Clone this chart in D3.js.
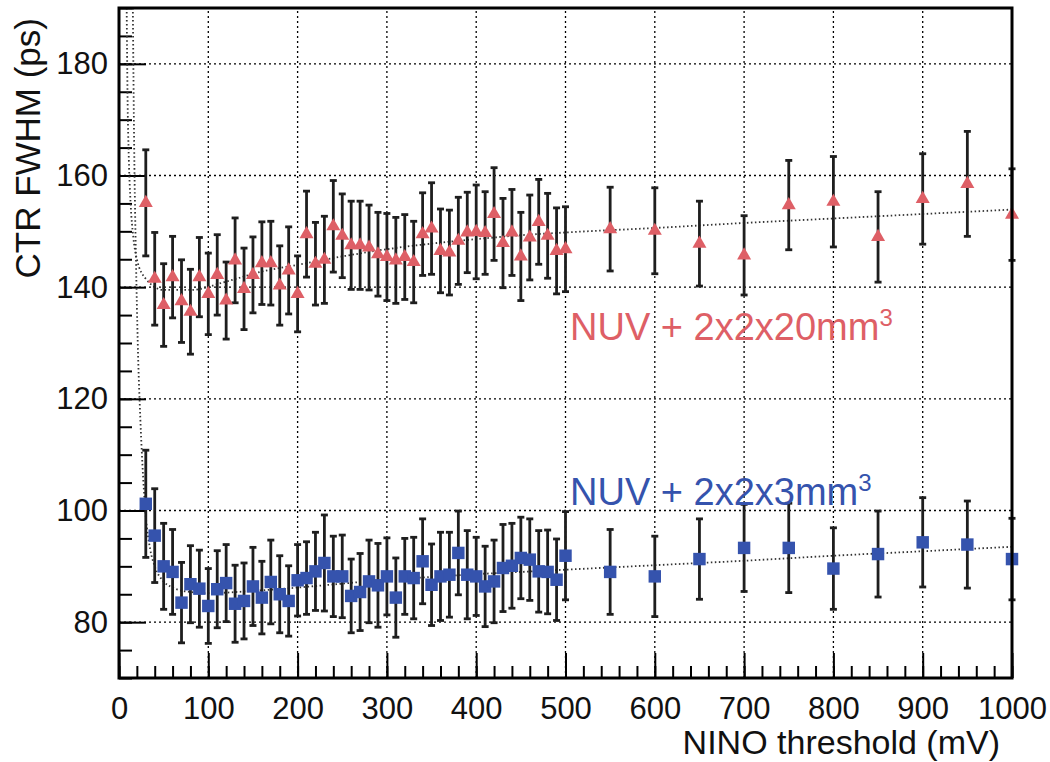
<!DOCTYPE html>
<html>
<head>
<meta charset="utf-8">
<script src="https://cdn.jsdelivr.net/npm/d3@7"></script>
<style>
  html, body { margin: 0; padding: 0; background: #fff; }
  svg { display: block; font-family: "Liberation Sans", Arial, Helvetica, sans-serif; }
</style>
</head>
<body>
<svg></svg>
<script>
const [width, height] = [1050, 762];
const margin = { top: 8, right: 38, bottom: 84, left: 119 };

// NINO threshold (mV)
const thresholds = [30, 40, 50, 60, 70, 80, 90, 100, 110, 120, 130, 140, 150, 160, 170, 180, 190, 200,
  210, 220, 230, 240, 250, 260, 270, 280, 290, 300, 310, 320, 330, 340, 350, 360, 370, 380, 390, 400,
  410, 420, 430, 440, 450, 460, 470, 480, 490, 500, 550, 600, 650, 700, 750, 800, 850, 900, 950, 1000];

// NUV + 2x2x20mm3, CTR FWHM (ps) and its error
const longValues = [155.1, 141.5, 136.8, 141.8, 137.5, 135.6, 141.8, 138.8, 142.2, 137.6, 144.8, 139.7,
  142.2, 144.3, 144.3, 140.3, 143.0, 138.8, 149.5, 144.2, 144.9, 150.9, 149.2, 147.5, 147.5, 147.1,
  145.9, 145.4, 144.8, 145.4, 144.5, 149.5, 150.5, 146.5, 146.2, 148.3, 149.8, 149.9, 149.7, 153.1,
  147.9, 149.8, 145.5, 148.9, 151.7, 149.2, 146.5, 146.8, 150.4, 150.1, 147.8, 145.7, 154.7, 155.3,
  149.0, 155.8, 158.5, 153.0];
const longErrors = [9.5, 8.3, 7.4, 7.3, 7.4, 7.6, 7.1, 7.3, 7.2, 6.9, 7.6, 7.3, 6.8, 7.4, 7.5, 7.1, 7.8,
  6.8, 7.7, 7.4, 7.8, 8.2, 7.5, 7.9, 7.9, 7.6, 7.5, 7.8, 7.7, 7.6, 7.3, 7.4, 8.2, 7.5, 7.6, 7.8, 7.2,
  8.4, 7.4, 8.3, 8.0, 7.7, 7.9, 7.6, 7.6, 7.6, 7.7, 7.6, 7.5, 7.7, 7.6, 7.1, 8.0, 8.1, 8.1, 8.1, 9.4, 8.2];

// NUV + 2x2x3mm3
const shortValues = [101.2, 95.5, 90.0, 89.0, 83.5, 86.8, 86.0, 82.9, 85.9, 87.0, 83.3, 83.8, 86.4,
  84.4, 87.2, 85.0, 83.8, 87.5, 87.9, 89.1, 90.6, 88.2, 88.2, 84.7, 85.4, 87.3, 86.6, 88.2, 84.4, 88.2,
  87.9, 90.9, 86.7, 88.2, 88.5, 92.4, 88.5, 88.2, 86.4, 87.3, 89.7, 90.1, 91.5, 91.2, 89.1, 89.0, 87.6,
  91.9, 89.0, 88.2, 91.3, 93.3, 93.3, 89.6, 92.2, 94.3, 93.9, 91.3];
const shortErrors = [9.6, 8.4, 7.7, 7.6, 7.2, 6.9, 6.9, 6.7, 6.9, 6.9, 6.9, 6.8, 7.0, 6.5, 7.5, 6.9, 6.3,
  6.4, 6.5, 7.0, 8.6, 7.2, 7.4, 6.6, 6.9, 7.4, 7.5, 6.9, 7.1, 6.8, 7.3, 7.6, 7.3, 7.9, 7.6, 7.5, 7.9,
  7.0, 7.2, 7.4, 7.8, 7.6, 7.3, 7.3, 7.3, 7.5, 7.3, 7.9, 7.6, 7.2, 7.2, 7.8, 8.0, 7.3, 7.7, 8.0, 7.8, 7.3];

// fit curves
const longFitX = [8.6, 9.5, 11, 13, 16, 20, 30, 50, 80, 120, 160, 200, 250, 300, 350, 400, 450, 500, 600, 700, 800, 900, 1000];
const longFitY = [190, 175, 163, 155, 149, 145, 141.5, 139.5, 139.5, 141, 142.8, 144, 145.5, 146.8, 147.8, 148.6, 149.3, 149.8, 150.6, 151.5, 152.3, 153.1, 153.9];
const shortFitX = [15.5, 17, 19, 21, 24, 27, 30, 35, 40, 50, 60, 80, 100, 150, 200, 250, 300, 350, 400, 450, 500, 600, 700, 800, 900, 1000];
const shortFitY = [190, 165, 145, 130, 116, 106, 99, 93, 90, 87.3, 86.2, 85.4, 85.2, 85.6, 86.2, 86.9, 87.6, 88.1, 88.6, 89.0, 89.4, 90.2, 91.0, 91.9, 92.7, 93.5];

const xTicks = [0, 100, 200, 300, 400, 500, 600, 700, 800, 900, 1000];
const yTicks = [80, 100, 120, 140, 160, 180];

const red = '#de5f66';
const blue = '#3553ad';

const svg = d3.select('svg').attr('width', width).attr('height', height);

const x = d3.scaleLinear().domain([0, 1000]).range([margin.left, width - margin.right]);
const y = d3.scaleLinear().domain([70, 190]).range([height - margin.bottom, margin.top]);

svg.append('clipPath').attr('id', 'plot')
  .append('rect')
  .attr('x', x(0)).attr('y', y(190))
  .attr('width', x(1000) - x(0)).attr('height', y(70) - y(190));

// grid
const grid = svg.append('g').attr('stroke', '#000').attr('stroke-width', 1.3).attr('stroke-dasharray', '2,3');
grid.selectAll('.gx').data(xTicks.filter(d => d > 0 && d < 1000)).join('line')
  .attr('x1', d => x(d)).attr('x2', d => x(d))
  .attr('y1', y(70)).attr('y2', y(190));
grid.selectAll('.gy').data(yTicks).join('line')
  .attr('x1', x(0)).attr('x2', x(1000))
  .attr('y1', d => y(d)).attr('y2', d => y(d));

// axes: ticks inside the frame, as ROOT draws them
const xAxis = d3.axisBottom(x).tickValues(xTicks).tickSize(-25).tickPadding(35).tickFormat(d3.format('d'));
const xMinor = d3.axisBottom(x).tickValues(d3.range(0, 1001, 20)).tickSize(-12).tickFormat('');
const yAxis = d3.axisLeft(y).tickValues(yTicks).tickSize(-27).tickPadding(11).tickFormat(d3.format('d'));
const yMinor = d3.axisLeft(y).tickValues(d3.range(70, 191, 5)).tickSize(-13).tickFormat('');

function styleAxis(g) {
  g.select('.domain').remove();
  g.selectAll('line').attr('stroke', '#000').attr('stroke-width', 2);
  g.selectAll('text').attr('font-size', 31).attr('fill', '#111').attr('font-family', null);
}

svg.append('g').attr('transform', `translate(0,${y(70)})`).call(xMinor).call(styleAxis);
svg.append('g').attr('transform', `translate(0,${y(70)})`).call(xAxis).call(styleAxis)
  .selectAll('text').attr('dy', '0.2em');
svg.append('g').attr('transform', `translate(${x(0)},0)`).call(yMinor).call(styleAxis);
svg.append('g').attr('transform', `translate(${x(0)},0)`).call(yAxis).call(styleAxis);

// fits
const fitLine = d3.line().x(d => x(d[0])).y(d => y(d[1])).curve(d3.curveMonotoneX);
const fits = svg.append('g').attr('clip-path', 'url(#plot)')
  .attr('fill', 'none').attr('stroke', '#333').attr('stroke-width', 1.8).attr('stroke-dasharray', '1.5,2.5');
fits.append('path').attr('d', fitLine(d3.zip(longFitX, longFitY)));
fits.append('path').attr('d', fitLine(d3.zip(shortFitX, shortFitY)));

// error bars + markers
function drawSeries(values, errors, color, symbolType, size) {
  const data = thresholds.map((t, i) => ({ t, v: values[i], e: errors[i] }));
  const g = svg.append('g');
  const bars = g.append('g').attr('stroke', '#1e1e1e').attr('stroke-width', 2.8);
  bars.selectAll('.bar').data(data).join('line')
    .attr('x1', d => x(d.t)).attr('x2', d => x(d.t))
    .attr('y1', d => y(d.v - d.e)).attr('y2', d => y(d.v + d.e));
  bars.selectAll('.capTop').data(data).join('line')
    .attr('x1', d => x(d.t) - 3.5).attr('x2', d => x(d.t) + 3.5)
    .attr('y1', d => y(d.v + d.e)).attr('y2', d => y(d.v + d.e));
  bars.selectAll('.capBot').data(data).join('line')
    .attr('x1', d => x(d.t) - 3.5).attr('x2', d => x(d.t) + 3.5)
    .attr('y1', d => y(d.v - d.e)).attr('y2', d => y(d.v - d.e));
  g.selectAll('path').data(data).join('path')
    .attr('transform', d => `translate(${x(d.t)},${y(d.v)})`)
    .attr('d', d3.symbol().type(symbolType).size(size))
    .attr('fill', color);
}
drawSeries(longValues, longErrors, red, d3.symbolTriangle, 85);
drawSeries(shortValues, shortErrors, blue, d3.symbolSquare, 155);

// frame
svg.append('rect')
  .attr('x', x(0)).attr('y', y(190))
  .attr('width', x(1000) - x(0)).attr('height', y(70) - y(190))
  .attr('fill', 'none').attr('stroke', '#000').attr('stroke-width', 3);

// series labels
function label(txt, color, px, py) {
  const t = svg.append('text').attr('x', px).attr('y', py)
    .attr('font-size', 38).attr('fill', color);
  t.append('tspan').text(txt);
  t.append('tspan').attr('font-size', 24).attr('dy', -14).text('3');
}
label('NUV + 2x2x20mm', red, 570, 340);
label('NUV + 2x2x3mm', blue, 570, 505);

// axis titles
svg.append('text').attr('x', 1000).attr('y', 754).attr('text-anchor', 'end')
  .attr('font-size', 34).attr('fill', '#111').text('NINO threshold (mV)');
svg.append('text').attr('transform', 'translate(40,18) rotate(-90)').attr('text-anchor', 'end')
  .attr('font-size', 35).attr('fill', '#111').text('CTR FWHM (ps)');
</script>
</body>
</html>
